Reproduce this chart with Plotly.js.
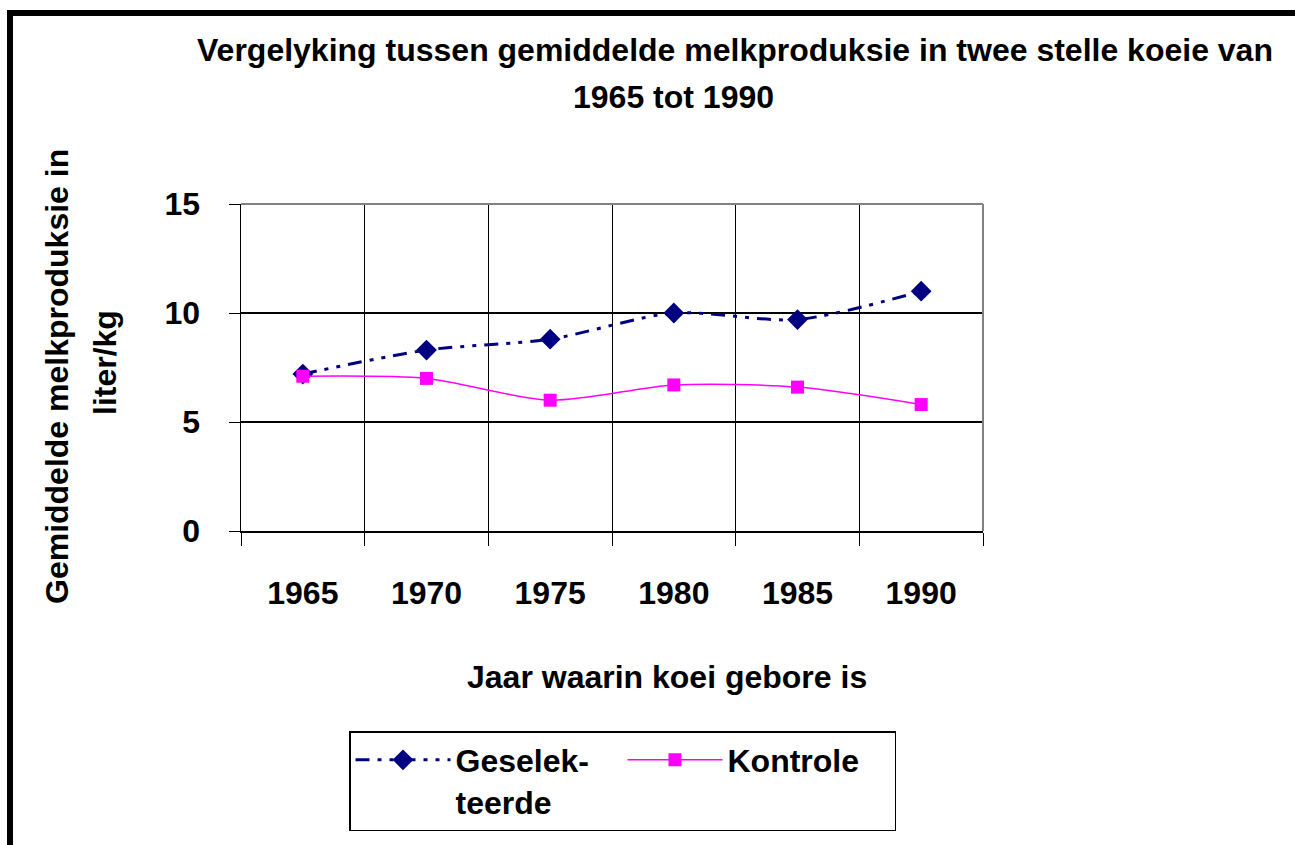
<!DOCTYPE html>
<html>
<head>
<meta charset="utf-8">
<script src="https://cdn.plot.ly/plotly-3.0.1.min.js"></script>
<style>
  html, body { margin: 0; padding: 0; background: #ffffff; }
  #chart { position: absolute; left: 0; top: 0; width: 1295px; height: 845px; }
  #frame { position: absolute; left: 7px; top: 10px; width: 1300px; height: 850px;
           border-top: 6px solid #000; border-left: 6px solid #000; pointer-events: none; }
</style>
</head>
<body>
<div id="chart"></div>
<div id="frame"></div>
<script>
// ---- data ----
const years = ['1965', '1970', '1975', '1980', '1985', '1990'];
const geselekteerde = [7.2, 8.3, 8.8, 10.0, 9.7, 11.0];
const kontrole = [7.1, 7.0, 6.0, 6.7, 6.6, 5.8];
const seriesNames = ['Geselek-<br>teerde', 'Kontrole'];
const titleLines = ['Vergelyking tussen gemiddelde melkproduksie in twee stelle koeie van', '1965 tot 1990'];
const yTitleLines = ['Gemiddelde melkproduksie in', 'liter/kg'];
const xTitle = 'Jaar waarin koei gebore is';

const FONT = 'Liberation Sans, Arial, sans-serif';
const FS = 32;

const traces = [
  {
    x: years, y: geselekteerde, name: seriesNames[0], type: 'scatter', mode: 'lines+markers',
    line: { color: '#000080', width: 3, dash: '14px,8px,4px,8px,4px,8px', shape: 'spline', smoothing: 0.8 },
    marker: { symbol: 'diamond', size: 16, color: '#000080' }
  },
  {
    x: years, y: kontrole, name: seriesNames[1], type: 'scatter', mode: 'lines+markers',
    line: { color: '#FF00FF', width: 1.5, shape: 'spline', smoothing: 0.8 },
    marker: { symbol: 'square', size: 13, color: '#FF00FF' }
  }
];

const L = 241, R = 983, T = 204, B = 531, W = 1295, H = 845;
const px = v => (v - L) / (R - L);
const py = v => (B - v) / (B - T);

const layout = {
  width: W, height: H,
  margin: { l: L, r: W - R, t: T, b: H - B, pad: 0 },
  paper_bgcolor: 'rgba(0,0,0,0)',
  plot_bgcolor: '#ffffff',
  font: { family: FONT, size: FS, color: '#000000' },
  showlegend: true,
  xaxis: {
    type: 'category',
    tickson: 'boundaries',
    showgrid: true, gridcolor: '#000000', gridwidth: 1,
    showline: true, linecolor: '#000000', linewidth: 1.5,
    ticks: 'outside', ticklen: 13, tickcolor: '#000000', tickwidth: 1,
    ticklabelstandoff: 33,
    tickfont: { family: FONT, size: FS, weight: 'bold', color: '#000000' },
    range: [-0.5, 5.5],
    fixedrange: true
  },
  yaxis: {
    range: [0, 15], tickvals: [0, 5, 10, 15],
    showgrid: true, gridcolor: '#000000', gridwidth: 1.5,
    showline: true, linecolor: '#000000', linewidth: 1.5,
    zeroline: false,
    ticks: 'outside', ticklen: 11, tickcolor: '#000000', tickwidth: 1,
    ticklabelstandoff: 22,
    tickfont: { family: FONT, size: FS, weight: 'bold', color: '#000000' },
    fixedrange: true
  },
  legend: {
    orientation: 'h',
    x: px(349), xanchor: 'left', y: py(731), yanchor: 'top',
    xref: 'paper', yref: 'paper',
    bordercolor: '#000000', borderwidth: 1.5, bgcolor: '#ffffff',
    font: { family: FONT, size: FS, weight: 'bold', color: '#000000' },
    valign: 'top',
    itemwidth: 95,
    entrywidth: 162, entrywidthmode: 'pixels'
  },
  shapes: [
    { type: 'line', xref: 'paper', yref: 'paper', x0: 0, x1: 1, y0: 1, y1: 1, line: { color: '#808080', width: 2 } },
    { type: 'line', xref: 'paper', yref: 'paper', x0: 1, x1: 1, y0: 0, y1: 1, line: { color: '#808080', width: 2 } }
  ],
  annotations: [
    { text: '<b>' + titleLines[0] + '</b>', xref: 'paper', yref: 'paper', x: px(735), y: py(50), xanchor: 'center', yanchor: 'middle', showarrow: false, font: { family: FONT, size: FS, color: '#000' } },
    { text: '<b>' + titleLines[1] + '</b>', xref: 'paper', yref: 'paper', x: px(673), y: py(97), xanchor: 'center', yanchor: 'middle', showarrow: false, font: { family: FONT, size: FS, color: '#000' } },
    { text: '<b>' + yTitleLines[0] + '</b>', xref: 'paper', yref: 'paper', x: px(57), y: py(377), xanchor: 'center', yanchor: 'middle', textangle: -90, showarrow: false, font: { family: FONT, size: FS, color: '#000' } },
    { text: '<b>' + yTitleLines[1] + '</b>', xref: 'paper', yref: 'paper', x: px(105), y: py(363), xanchor: 'center', yanchor: 'middle', textangle: -90, showarrow: false, font: { family: FONT, size: FS, color: '#000' } },
    { text: '<b>' + xTitle + '</b>', xref: 'paper', yref: 'paper', x: px(667), y: py(677), xanchor: 'center', yanchor: 'middle', showarrow: false, font: { family: FONT, size: FS, color: '#000' } }
  ]
};

Plotly.newPlot('chart', traces, layout, { displayModeBar: false, staticPlot: true });
</script>
</body>
</html>
